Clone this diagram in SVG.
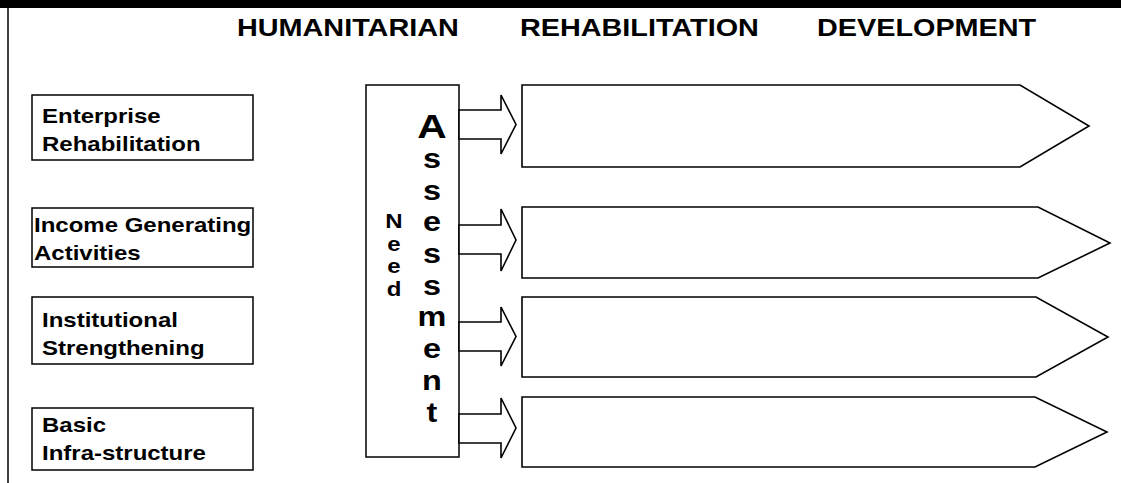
<svg xmlns="http://www.w3.org/2000/svg" width="1121" height="483" viewBox="0 0 1121 483">
<style>
  .t { font-family: "Liberation Sans", Arial, sans-serif; font-weight: bold; fill: #000; }
  .title { font-size: 24px; }
  .lbl { font-size: 20px; }
  .big { font-size: 27px; text-anchor: middle; }
  .need { font-size: 20px; text-anchor: middle; }
  .box { fill: #fff; stroke: #000; stroke-width: 1.5; }
  .shape { fill: #fff; stroke: #000; stroke-width: 1.6; stroke-linejoin: miter; }
</style>
<rect x="0" y="0" width="1121" height="483" fill="#fff"/>
<rect x="0" y="0" width="1121" height="8" fill="#000"/>
<line x1="8" y1="8" x2="8" y2="483" stroke="#000" stroke-width="1.5"/>

<g id="titles">
  <g transform="translate(237,36) scale(1.2,1)"><text class="t title" x="0" y="0">HUMANITARIAN</text></g>
  <g transform="translate(520,36) scale(1.2,1)"><text class="t title" x="0" y="0">REHABILITATION</text></g>
  <g transform="translate(817,36) scale(1.2,1)"><text class="t title" x="0" y="0">DEVELOPMENT</text></g>
</g>

<g id="node-enterprise">
  <rect class="box" x="32" y="95" width="221" height="65"/>
  <g transform="translate(42,0) scale(1.2,1)">
    <text class="t lbl" x="0" y="123">Enterprise</text>
    <text class="t lbl" x="0" y="151">Rehabilitation</text>
  </g>
</g>
<g id="node-income">
  <rect class="box" x="32" y="208" width="221" height="59"/>
  <g transform="translate(34,0) scale(1.2,1)">
    <text class="t lbl" x="0" y="232">Income Generating</text>
    <text class="t lbl" x="0" y="260">Activities</text>
  </g>
</g>
<g id="node-institutional">
  <rect class="box" x="32" y="297" width="221" height="67"/>
  <g transform="translate(42,0) scale(1.2,1)">
    <text class="t lbl" x="0" y="327">Institutional</text>
    <text class="t lbl" x="0" y="355">Strengthening</text>
  </g>
</g>
<g id="node-basic">
  <rect class="box" x="32" y="408" width="221" height="62"/>
  <g transform="translate(42,0) scale(1.2,1)">
    <text class="t lbl" x="0" y="432">Basic</text>
    <text class="t lbl" x="0" y="460">Infra-structure</text>
  </g>
</g>

<g id="node-need-assessment">
  <rect class="box" x="366" y="85" width="93" height="372"/>
  <g transform="translate(394,0) scale(1.2,1)">
    <text class="t need" x="0" y="228.5">N</text>
    <text class="t need" x="0" y="251">e</text>
    <text class="t need" x="0" y="273.5">e</text>
    <text class="t need" x="0" y="296">d</text>
  </g>
  <g transform="translate(432,0) scale(1.2,1)">
    <text class="t big" x="0" y="138" style="font-size:34px">A</text>
    <text class="t big" x="0" y="168">s</text>
    <text class="t big" x="0" y="200">s</text>
    <text class="t big" x="0" y="231">e</text>
    <text class="t big" x="0" y="263">s</text>
    <text class="t big" x="0" y="295">s</text>
    <text class="t big" x="0" y="326">m</text>
    <text class="t big" x="0" y="358">e</text>
    <text class="t big" x="0" y="390">n</text>
    <text class="t big" x="0" y="422">t</text>
  </g>
</g>

<g id="connectors">
  <polygon class="shape" points="459,110 501,110 501,95 516,124.5 501,154 501,139 459,139"/>
  <polygon class="shape" points="459,225 501,225 501,209 516,240 501,271 501,254 459,254"/>
  <polygon class="shape" points="459,322 501,322 501,307 516,336.5 501,366 501,351 459,351"/>
  <polygon class="shape" points="459,414 501,414 501,398 516,428 501,458 501,443 459,443"/>
</g>

<g id="node-stage-1">
  <polygon class="shape" points="522,85 1020,85 1089,126 1020,167 522,167"/>
</g>
<g id="node-stage-2">
  <polygon class="shape" points="522,207 1038,207 1110,243 1038,278 522,278"/>
</g>
<g id="node-stage-3">
  <polygon class="shape" points="522,297 1036,297 1108,337 1036,377 522,377"/>
</g>
<g id="node-stage-4">
  <polygon class="shape" points="522,397 1035,397 1107,432 1035,467 522,467"/>
</g>
</svg>
